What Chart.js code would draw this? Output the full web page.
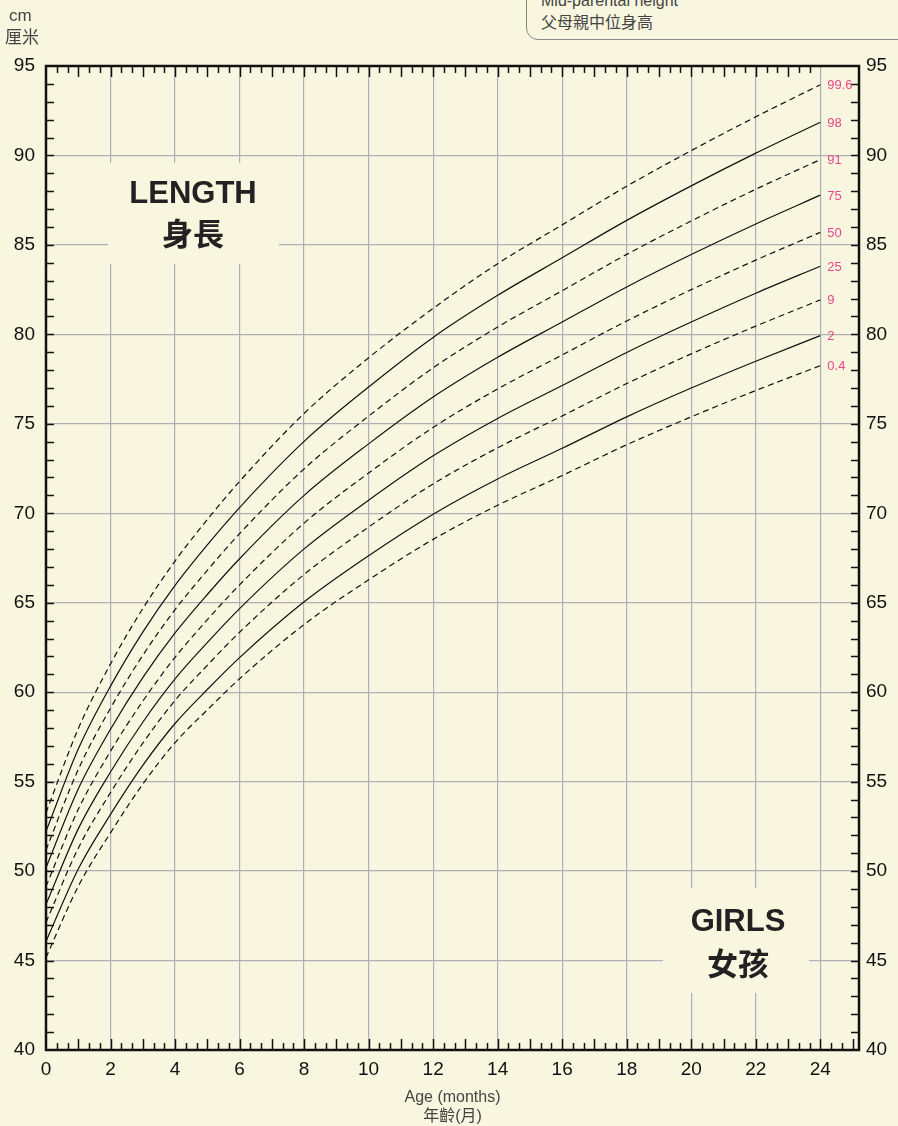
<!DOCTYPE html>
<html>
<head>
<meta charset="utf-8">
<script src="https://cdn.jsdelivr.net/npm/chart.js@4/dist/chart.umd.min.js"></script>
<style>
  html, body { margin: 0; padding: 0; background: #F8F6DE; }
  #wrap { position: relative; width: 898px; height: 1126px; overflow: hidden; }
  canvas { position: absolute; left: 0; top: 0; }
  .unit { position: absolute; left: 8px; color: #444; font: 17px/20px "Liberation Sans", "Noto Sans CJK TC", sans-serif; }
  #mph {
    position: absolute; left: 526px; top: -20px; width: 420px; height: 58px;
    border: 1.5px solid #888; border-bottom-left-radius: 12px;
    background: #F8F6DE; color: #444;
    font: 16px/18px "Liberation Sans", "Noto Sans CJK TC", sans-serif;
  }
  #mph div { position: absolute; left: 14px; white-space: nowrap; }
</style>
</head>
<body>
<div id="wrap">
  <canvas id="chart" width="898" height="1126"></canvas>
  <div class="unit" style="top:6px;left:9px">cm</div>
  <div class="unit" style="top:28px;left:5px">厘米</div>
  <div id="mph">
    <div style="top:11px">Mid-parental height</div>
    <div style="top:33px">父母親中位身高</div>
  </div>
</div>
<script>
// Girls length, 0-24 months, centile curves
const MONTHS = [0, 1, 2, 3, 4, 5, 6, 8, 10, 12, 14, 16, 18, 20, 22, 24];

const P99_6 = [53.26, 57.96, 61.58, 64.67, 67.33, 69.65, 71.78, 75.58, 78.69, 81.45, 83.95, 86.12, 88.28, 90.27, 92.16, 93.95];
const P98   = [52.22, 56.82, 60.34, 63.36, 65.97, 68.23, 70.32, 74.02, 77.06, 79.83, 82.18, 84.28, 86.37, 88.30, 90.13, 91.86];
const P91   = [51.18, 55.68, 59.11, 62.06, 64.61, 66.81, 68.86, 72.48, 75.43, 78.13, 80.41, 82.44, 84.47, 86.34, 88.11, 89.77];
const P75   = [50.19, 54.59, 57.93, 60.81, 63.31, 65.46, 67.46, 71.00, 73.88, 76.50, 78.72, 80.69, 82.65, 84.46, 86.17, 87.78];
const P50   = [49.15, 53.45, 56.70, 59.50, 61.95, 64.05, 66.00, 69.45, 72.25, 74.80, 76.95, 78.85, 80.75, 82.50, 84.15, 85.70];
const P25   = [48.14, 52.36, 55.54, 58.32, 60.74, 62.77, 64.67, 68.01, 70.73, 73.21, 75.30, 77.14, 78.99, 80.69, 82.30, 83.81];
const P9    = [47.14, 51.28, 54.39, 57.15, 59.54, 61.50, 63.35, 66.58, 69.23, 71.64, 73.66, 75.44, 77.25, 78.91, 80.46, 81.93];
const P2    = [46.07, 50.12, 53.17, 55.91, 58.25, 60.15, 61.93, 65.05, 67.63, 69.95, 71.92, 73.63, 75.39, 77.00, 78.50, 79.93];
const P0_4  = [45.17, 49.15, 52.14, 54.86, 57.18, 59.01, 60.75, 63.78, 66.28, 68.54, 70.45, 72.11, 73.83, 75.39, 76.86, 78.25];

const X_TICKS = [0, 2, 4, 6, 8, 10, 12, 14, 16, 18, 20, 22, 24];
const Y_TICKS = [40, 45, 50, 55, 60, 65, 70, 75, 80, 85, 90, 95];

const CENTILES = [
  { label: '99.6', values: P99_6, dashed: true },
  { label: '98',   values: P98,   dashed: false },
  { label: '91',   values: P91,   dashed: true },
  { label: '75',   values: P75,   dashed: false },
  { label: '50',   values: P50,   dashed: true },
  { label: '25',   values: P25,   dashed: false },
  { label: '9',    values: P9,    dashed: true },
  { label: '2',    values: P2,    dashed: false },
  { label: '0.4',  values: P0_4,  dashed: true },
];

const X_MIN = 0, X_MAX = 25.2;
const Y_MIN = 40, Y_MAX = 95;

const BG = '#F8F6DE';
const GRID = '#AEAEB6';
const FONT = '"Liberation Sans", "Noto Sans CJK TC", sans-serif';

const datasets = CENTILES.map(c => ({
  label: c.label,
  data: MONTHS.map((m, i) => ({ x: m, y: c.values[i] })),
  borderColor: '#111',
  borderWidth: 1.2,
  borderDash: c.dashed ? [6, 4] : [],
  pointRadius: 0,
  cubicInterpolationMode: 'monotone',
  fill: false,
}));

// cream boxes with the big chart labels, drawn over the grid
const labelBoxes = {
  id: 'labelBoxes',
  beforeDatasetsDraw(chart) {
    const c = chart.ctx;
    c.save();
    c.fillStyle = BG;
    c.fillRect(108, 163, 171, 101);
    c.fillRect(663, 888, 146, 105);
    c.fillStyle = '#222';
    c.textAlign = 'center';
    c.textBaseline = 'middle';
    c.font = `bold 31px ${FONT}`;
    c.fillText('LENGTH', 193, 194);
    c.fillText('GIRLS', 738, 922);
    c.font = 'bold 31px "Noto Sans CJK TC", sans-serif';
    c.fillText('身長', 193, 233);
    c.fillText('女孩', 738, 963);
    c.restore();
  }
};

// frame, inward minor ticks and centile names
const frame = {
  id: 'frame',
  afterDraw(chart) {
    const c = chart.ctx;
    const { left, right, top, bottom } = chart.chartArea;
    const xs = chart.scales.x, ys = chart.scales.y;
    c.save();
    c.strokeStyle = '#111';
    c.lineWidth = 1.5;
    c.beginPath();
    for (let k = 1; k <= 75; k++) {
      const v = k / 3;
      if (v > X_MAX) break;
      const px = Math.round(xs.getPixelForValue(v)) + 0.5;
      const len = (k % 3 === 0) ? 11 : 7;
      c.moveTo(px, bottom); c.lineTo(px, bottom - len);
      if (v < 24) { c.moveTo(px, top); c.lineTo(px, top + len); }
    }
    for (let v = Y_MIN + 1; v < Y_MAX; v++) {
      const py = Math.round(ys.getPixelForValue(v)) + 0.5;
      c.moveTo(left, py); c.lineTo(left + 8, py);
      c.moveTo(right, py); c.lineTo(right - 8, py);
    }
    c.stroke();
    c.lineWidth = 2.5;
    c.strokeRect(left, top, right - left, bottom - top);

    c.fillStyle = '#E8458C';
    c.font = `13px ${FONT}`;
    c.textAlign = 'left';
    c.textBaseline = 'middle';
    const lx = xs.getPixelForValue(24) + 7;
    CENTILES.forEach(cn => {
      const last = cn.values[cn.values.length - 1];
      c.fillText(cn.label, lx, ys.getPixelForValue(last) + 1);
    });
    c.restore();
  }
};

const tickFont = { family: FONT, size: 19 };
const fixTicks = arr => s => { s.ticks = arr.map(v => ({ value: v })); };

new Chart(document.getElementById('chart'), {
  type: 'line',
  data: { datasets },
  plugins: [labelBoxes, frame],
  options: {
    responsive: false,
    devicePixelRatio: 1,
    animation: false,
    layout: { padding: { top: 66, left: 0, right: 0, bottom: 0 } },
    plugins: {
      legend: { display: false },
      tooltip: { enabled: false },
    },
    scales: {
      x: {
        type: 'linear',
        min: X_MIN,
        max: X_MAX,
        afterBuildTicks: fixTicks(X_TICKS),
        ticks: { color: '#111', font: tickFont, padding: 8, maxRotation: 0, autoSkip: false },
        grid: { color: GRID, lineWidth: 1.2, drawTicks: false },
        border: { display: false },
        title: {
          display: true,
          text: ['Age (months)', '年齡(月)'],
          color: '#444',
          font: { family: FONT, size: 16 },
          padding: { top: 4, bottom: 0 },
        },
        afterFit(s) { s.height = 76; },
      },
      y: {
        type: 'linear',
        position: 'left',
        min: Y_MIN,
        max: Y_MAX,
        afterBuildTicks: fixTicks(Y_TICKS),
        ticks: { color: '#111', font: tickFont, padding: 11, autoSkip: false },
        grid: { color: GRID, lineWidth: 1.2, drawTicks: false },
        border: { display: false },
        afterFit(s) { s.width = 46; },
      },
      y2: {
        type: 'linear',
        position: 'right',
        min: Y_MIN,
        max: Y_MAX,
        afterBuildTicks: fixTicks(Y_TICKS),
        ticks: { color: '#111', font: tickFont, padding: 7, autoSkip: false },
        grid: { display: false, drawTicks: false },
        border: { display: false },
        afterFit(s) { s.width = 39; },
      },
    },
  },
});
</script>
</body>
</html>
